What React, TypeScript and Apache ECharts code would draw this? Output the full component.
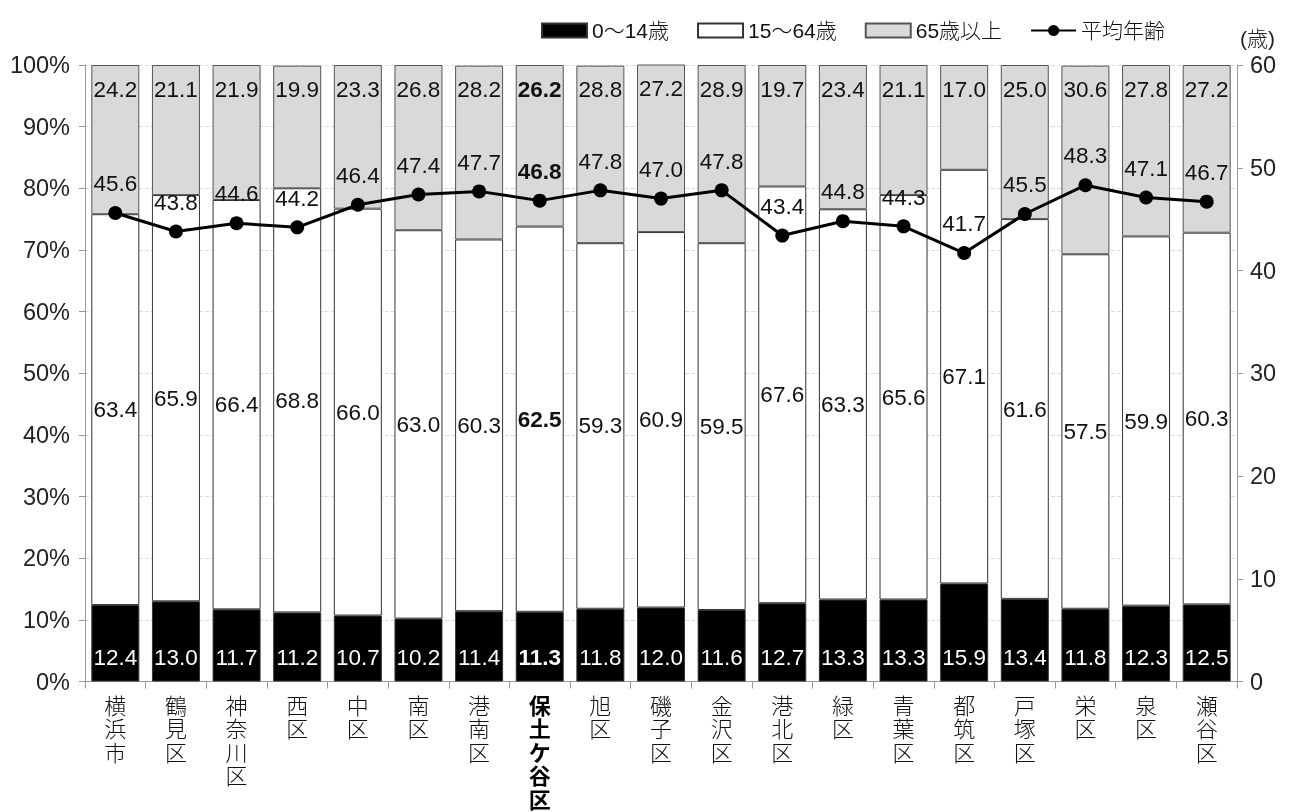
import React, { useEffect, useRef } from "react";
import * as echarts from "echarts";

const categories = ["横浜市", "鶴見区", "神奈川区", "西区", "中区", "南区", "港南区", "保土ケ谷区", "旭区", "磯子区", "金沢区", "港北区", "緑区", "青葉区", "都筑区", "戸塚区", "栄区", "泉区", "瀬谷区"];
const young = [12.4, 13.0, 11.7, 11.2, 10.7, 10.2, 11.4, 11.3, 11.8, 12.0, 11.6, 12.7, 13.3, 13.3, 15.9, 13.4, 11.8, 12.3, 12.5];
const working = [63.4, 65.9, 66.4, 68.8, 66.0, 63.0, 60.3, 62.5, 59.3, 60.9, 59.5, 67.6, 63.3, 65.6, 67.1, 61.6, 57.5, 59.9, 60.3];
const elderly = [24.2, 21.1, 21.9, 19.9, 23.3, 26.8, 28.2, 26.2, 28.8, 27.2, 28.9, 19.7, 23.4, 21.1, 17.0, 25.0, 30.6, 27.8, 27.2];
const avgAge = [45.6, 43.8, 44.6, 44.2, 46.4, 47.4, 47.7, 46.8, 47.8, 47.0, 47.8, 43.4, 44.8, 44.3, 41.7, 45.5, 48.3, 47.1, 46.7];
const seriesNames = ["0〜14歳", "15〜64歳", "65歳以上", "平均年齢"];
const highlightIndex = 7;

const FONT = "'Liberation Sans', 'Noto Sans CJK JP', sans-serif";
const VAL_SIZE = 22.5;

function withBold(vals: number[]) {
  return vals.map((v, i) => (i === highlightIndex ? { value: v, label: { fontWeight: "bold" } } : v));
}

const fmt = (p: any) => Number(p.value).toFixed(1);

export default function App() {
  const ref = useRef<HTMLDivElement>(null);
  useEffect(() => {
    if (!ref.current) return;
    const chart = echarts.init(ref.current, null, { renderer: "svg" });
    const barBase = {
      type: "bar",
      stack: "pct",
      barWidth: 48,
      yAxisIndex: 0,
    };
    chart.setOption({
      animation: false,
      textStyle: { fontFamily: FONT },
      legend: {
        data: [
          { name: seriesNames[0], icon: "rect" },
          { name: seriesNames[1], icon: "rect" },
          { name: seriesNames[2], icon: "rect" },
          { name: seriesNames[3] },
        ],
        left: 536,
        top: 15,
        itemWidth: 45,
        itemHeight: 14,
        itemGap: 28,
        textStyle: { fontSize: 21, color: "#111", fontFamily: FONT, fontWeight: 300, padding: [0, 0, 8, 0] },
      },
      grid: { left: 85, right: 58, top: 65, bottom: 130 },
      xAxis: {
        type: "category",
        data: categories,
        axisLine: { show: true, lineStyle: { color: "#999" } },
        axisTick: { show: true, length: 7, lineStyle: { color: "#999" } },
        axisLabel: {
          interval: 0,
          margin: 13,
          color: "#111",
          fontSize: 22,
          fontWeight: 300,
          lineHeight: 23.5,
          fontFamily: FONT,
          formatter: (v: string, i: number) =>
            i === highlightIndex
              ? v.split("").map((c) => `{b|${c}}`).join("\n")
              : v.split("").join("\n"),
          rich: { b: { fontWeight: "bold", fontSize: 22, lineHeight: 23.5, color: "#000", fontFamily: FONT } },
        },
      },
      yAxis: [
        {
          type: "value",
          min: 0,
          max: 100,
          interval: 10,
          axisLine: { show: true, lineStyle: { color: "#999" } },
          axisTick: { show: true, length: 6, lineStyle: { color: "#999" } },
          axisLabel: { formatter: "{value}%", fontSize: 23.5, color: "#222", margin: 15, fontFamily: FONT },
          splitLine: { show: true, lineStyle: { color: "#dcdcdc", type: "dashed" } },
        },
        {
          type: "value",
          min: 0,
          max: 60,
          interval: 10,
          name: "(歳)",
          nameLocation: "end",
          nameGap: 16,
          nameTextStyle: { fontSize: 21, color: "#222", align: "left", padding: [0, 0, 0, 3], fontFamily: FONT, fontWeight: 300 },
          axisLine: { show: true, lineStyle: { color: "#999" } },
          axisTick: { show: true, length: 6, lineStyle: { color: "#999" } },
          axisLabel: { fontSize: 23.5, color: "#222", margin: 13, fontFamily: FONT },
          splitLine: { show: false },
        },
      ],
      series: [
        {
          ...barBase,
          name: seriesNames[0],
          data: withBold(young),
          itemStyle: { color: "#000", borderColor: "#333", borderWidth: 1 },
          label: {
            show: true,
            position: "insideBottom",
            distance: 13,
            color: "#fff",
            fontSize: VAL_SIZE,
            fontFamily: FONT,
            formatter: fmt,
          },
        },
        {
          ...barBase,
          name: seriesNames[1],
          data: withBold(working),
          itemStyle: { color: "#fff", borderColor: "#333", borderWidth: 1 },
          label: {
            show: true,
            position: "inside",
            color: "#111",
            fontSize: VAL_SIZE,
            fontFamily: FONT,
            formatter: fmt,
          },
        },
        {
          ...barBase,
          name: seriesNames[2],
          data: withBold(elderly),
          itemStyle: { color: "#d9d9d9", borderColor: "#555", borderWidth: 1 },
          label: {
            show: true,
            position: "insideTop",
            distance: 13,
            color: "#111",
            fontSize: VAL_SIZE,
            fontFamily: FONT,
            formatter: fmt,
          },
        },
        {
          type: "line",
          name: seriesNames[3],
          yAxisIndex: 1,
          data: withBold(avgAge),
          z: 10,
          symbol: "circle",
          symbolSize: 14,
          lineStyle: { color: "#000", width: 3 },
          itemStyle: { color: "#000" },
          label: {
            show: true,
            position: "top",
            distance: 11,
            color: "#111",
            fontSize: VAL_SIZE,
            fontFamily: FONT,
            formatter: fmt,
          },
        },
      ],
    });
    return () => chart.dispose();
  }, []);
  return <div ref={ref} style={{ position: "fixed", left: 0, top: 0, width: 1295, height: 812 }} />;
}
